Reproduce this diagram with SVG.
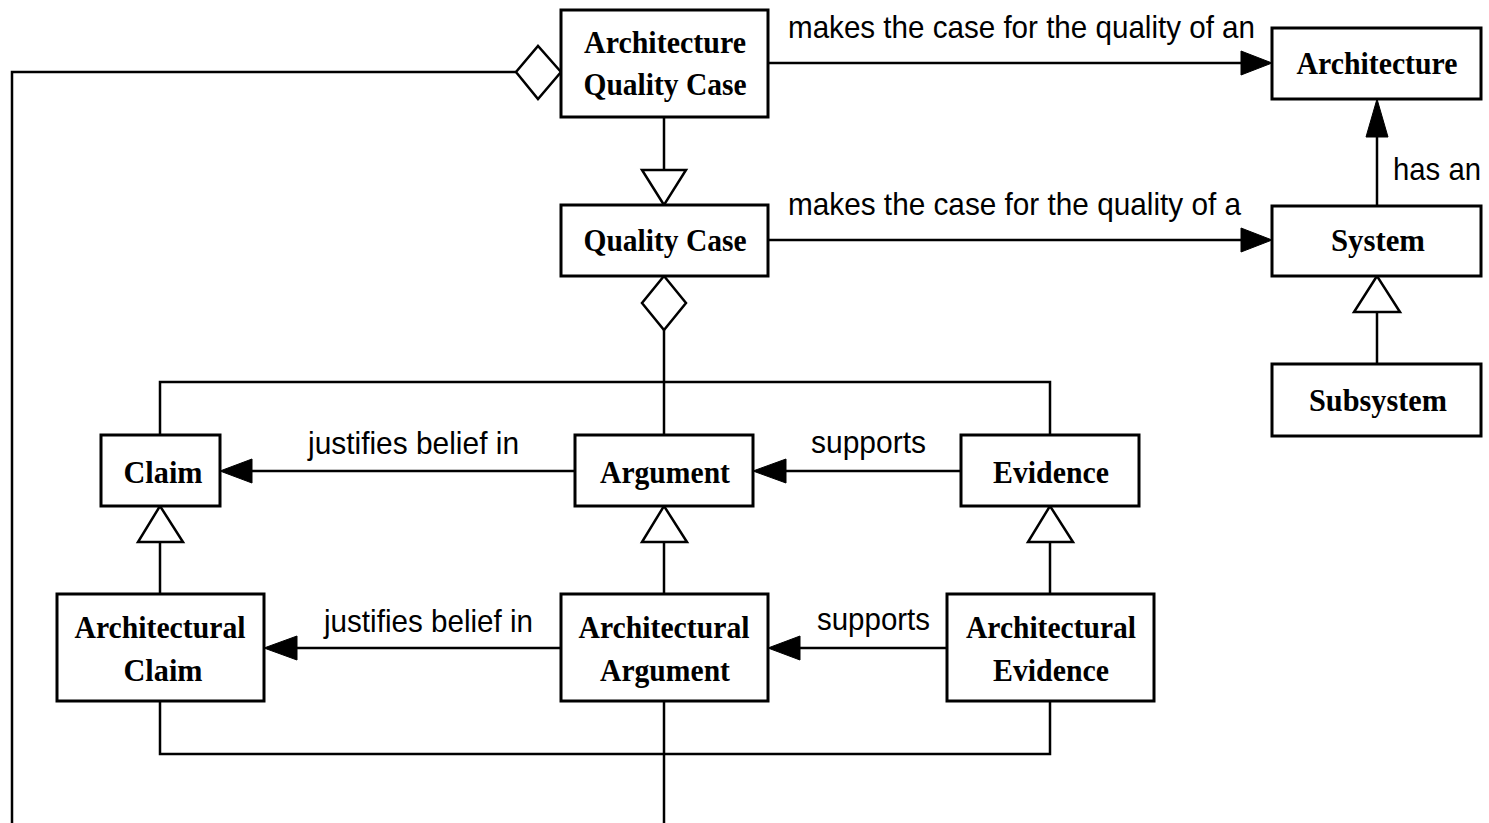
<svg xmlns="http://www.w3.org/2000/svg" width="1489" height="823" viewBox="0 0 1489 823">
<style>
.box{fill:#fff;stroke:#000;stroke-width:3}
.ln{fill:none;stroke:#000;stroke-width:2.5}
.hd{fill:#000;stroke:#000;stroke-width:1}
.hollow{fill:#fff;stroke:#000;stroke-width:2.5;stroke-linejoin:miter}
.nt{font-family:"Liberation Serif",serif;font-weight:bold;font-size:31px;text-anchor:middle;fill:#000}
.lb{font-family:"Liberation Sans",Arial,sans-serif;font-size:32px;fill:#000}
</style>
<rect width="1489" height="823" fill="#fff"/>
<g id="connectors">
<polyline class="ln" points="516,72 12,72 12,823"/>
<line class="ln" x1="768" y1="63" x2="1241" y2="63"/>
<polygon class="hd" points="1272,63 1241,51 1241,75"/>
<line class="ln" x1="768" y1="240" x2="1241" y2="240"/>
<polygon class="hd" points="1272,240 1241,228 1241,252"/>
<line class="ln" x1="1377" y1="206" x2="1377" y2="137"/>
<polygon class="hd" points="1377,99 1366,137 1388,137"/>
<line class="ln" x1="664" y1="117" x2="664" y2="170"/>
<polygon class="hollow" points="664,205 642,170 686,170"/>
<line class="ln" x1="1377" y1="312" x2="1377" y2="364"/>
<polygon class="hollow" points="1377,276 1354,312 1400,312"/>
<polygon class="hollow" points="561,72 538,46 516,72 538,99"/>
<polygon class="hollow" points="664,276 686,303 664,330 642,303"/>
<line class="ln" x1="664" y1="330" x2="664" y2="435"/>
<polyline class="ln" points="160,435 160,382 1050,382 1050,435"/>
<line class="ln" x1="575" y1="471" x2="252" y2="471"/>
<polygon class="hd" points="220,471 252,459 252,483"/>
<line class="ln" x1="961" y1="471" x2="786" y2="471"/>
<polygon class="hd" points="753,471 786,459 786,483"/>
<line class="ln" x1="160" y1="542" x2="160" y2="594"/>
<polygon class="hollow" points="160,506 138,542 183,542"/>
<line class="ln" x1="664" y1="542" x2="664" y2="594"/>
<polygon class="hollow" points="664,506 642,542 687,542"/>
<line class="ln" x1="1050" y1="542" x2="1050" y2="594"/>
<polygon class="hollow" points="1050,506 1028,542 1073,542"/>
<line class="ln" x1="561" y1="648" x2="297" y2="648"/>
<polygon class="hd" points="264,648 297,636 297,660"/>
<line class="ln" x1="947" y1="648" x2="800" y2="648"/>
<polygon class="hd" points="768,648 800,636 800,660"/>
<polyline class="ln" points="160,701 160,754 1050,754 1050,701"/>
<line class="ln" x1="664" y1="701" x2="664" y2="823"/>
<text class="lb" x="788" y="38" textLength="467" lengthAdjust="spacingAndGlyphs">makes the case for the quality of an</text>
<text class="lb" x="788" y="215" textLength="453" lengthAdjust="spacingAndGlyphs">makes the case for the quality of a</text>
<text class="lb" x="1393" y="180" textLength="88" lengthAdjust="spacingAndGlyphs">has an</text>
<text class="lb" x="308" y="454" textLength="211" lengthAdjust="spacingAndGlyphs">justifies belief in</text>
<text class="lb" x="811" y="453" textLength="115" lengthAdjust="spacingAndGlyphs">supports</text>
<text class="lb" x="324" y="632" textLength="209" lengthAdjust="spacingAndGlyphs">justifies belief in</text>
<text class="lb" x="817" y="630" textLength="113" lengthAdjust="spacingAndGlyphs">supports</text>
</g>
<g id="aqc">
<rect class="box" x="561" y="10" width="207" height="107"/>
<text class="nt" x="665" y="53" textLength="162" lengthAdjust="spacingAndGlyphs">Architecture</text>
<text class="nt" x="665" y="95" textLength="163" lengthAdjust="spacingAndGlyphs">Quality Case</text>
</g>
<g id="qc">
<rect class="box" x="561" y="205" width="207" height="71"/>
<text class="nt" x="665" y="251" textLength="163" lengthAdjust="spacingAndGlyphs">Quality Case</text>
</g>
<g id="architecture">
<rect class="box" x="1272" y="28" width="209" height="71"/>
<text class="nt" x="1377" y="74" textLength="161" lengthAdjust="spacingAndGlyphs">Architecture</text>
</g>
<g id="system">
<rect class="box" x="1272" y="206" width="209" height="70"/>
<text class="nt" x="1378" y="251" textLength="94" lengthAdjust="spacingAndGlyphs">System</text>
</g>
<g id="subsystem">
<rect class="box" x="1272" y="364" width="209" height="72"/>
<text class="nt" x="1378" y="411" textLength="138" lengthAdjust="spacingAndGlyphs">Subsystem</text>
</g>
<g id="claim">
<rect class="box" x="101" y="435" width="119" height="71"/>
<text class="nt" x="163" y="483" textLength="79" lengthAdjust="spacingAndGlyphs">Claim</text>
</g>
<g id="argument">
<rect class="box" x="575" y="435" width="178" height="71"/>
<text class="nt" x="665" y="483" textLength="130" lengthAdjust="spacingAndGlyphs">Argument</text>
</g>
<g id="evidence">
<rect class="box" x="961" y="435" width="178" height="71"/>
<text class="nt" x="1051" y="483" textLength="116" lengthAdjust="spacingAndGlyphs">Evidence</text>
</g>
<g id="arch-claim">
<rect class="box" x="57" y="594" width="207" height="107"/>
<text class="nt" x="160" y="638" textLength="171" lengthAdjust="spacingAndGlyphs">Architectural</text>
<text class="nt" x="163" y="681" textLength="79" lengthAdjust="spacingAndGlyphs">Claim</text>
</g>
<g id="arch-argument">
<rect class="box" x="561" y="594" width="207" height="107"/>
<text class="nt" x="664" y="638" textLength="171" lengthAdjust="spacingAndGlyphs">Architectural</text>
<text class="nt" x="665" y="681" textLength="130" lengthAdjust="spacingAndGlyphs">Argument</text>
</g>
<g id="arch-evidence">
<rect class="box" x="947" y="594" width="207" height="107"/>
<text class="nt" x="1051" y="638" textLength="170" lengthAdjust="spacingAndGlyphs">Architectural</text>
<text class="nt" x="1051" y="681" textLength="116" lengthAdjust="spacingAndGlyphs">Evidence</text>
</g>
</svg>
